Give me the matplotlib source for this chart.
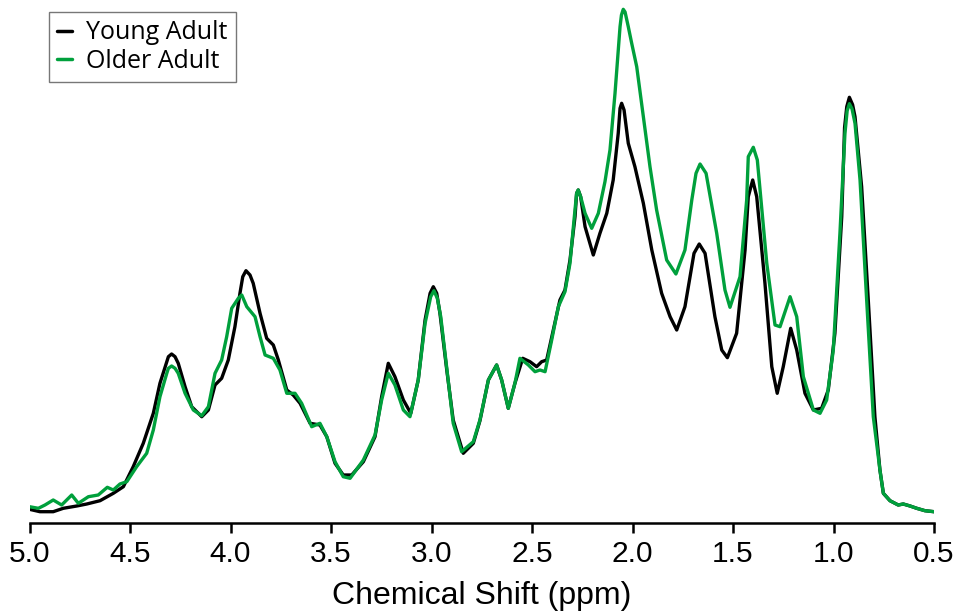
import matplotlib
matplotlib.use("Agg")
import matplotlib.pyplot as plt

# Chemical shift (ppm) and intensity (a.u.)
young_ppm = [5.00, 4.948, 4.882, 4.832, 4.765, 4.715, 4.649, 4.583, 4.533, 4.484, 4.434,
             4.384, 4.351, 4.317, 4.309, 4.293, 4.276, 4.260, 4.226, 4.193, 4.143, 4.110,
             4.077, 4.044, 4.011, 3.978, 3.953, 3.939, 3.923, 3.903, 3.887, 3.853, 3.820,
             3.787, 3.762, 3.720, 3.688, 3.654, 3.604, 3.555, 3.521, 3.480, 3.439, 3.397,
             3.339, 3.281, 3.248, 3.215, 3.182, 3.140, 3.103, 3.066, 3.032, 3.007, 2.991,
             2.974, 2.958, 2.924, 2.892, 2.842, 2.792, 2.759, 2.717, 2.676, 2.651, 2.618,
             2.585, 2.546, 2.510, 2.477, 2.452, 2.427, 2.394, 2.361, 2.336, 2.311, 2.286,
             2.278, 2.270, 2.258, 2.236, 2.195, 2.162, 2.128, 2.096, 2.071, 2.062, 2.054,
             2.042, 2.021, 1.988, 1.946, 1.904, 1.855, 1.813, 1.780, 1.739, 1.705, 1.694,
             1.668, 1.639, 1.590, 1.556, 1.528, 1.482, 1.440, 1.424, 1.402, 1.382, 1.341,
             1.307, 1.280, 1.250, 1.213, 1.183, 1.142, 1.100, 1.059, 1.026, 0.993, 0.959,
             0.945, 0.934, 0.921, 0.905, 0.893, 0.860, 0.827, 0.794, 0.769, 0.752, 0.719,
             0.678, 0.653, 0.619, 0.586, 0.545, 0.500]
young_int = [13.4, 11.0, 11.0, 14.4, 16.7, 18.7, 22.0, 29.4, 36.0, 56.0, 79.4,
             109.4, 139.4, 161.0, 166.0, 168.7, 166.0, 159.4, 136.0, 116.0, 106.0, 112.7,
             137.7, 144.4, 162.7, 196.0, 229.4, 246.0, 252.0, 247.7, 239.4, 209.4, 184.4,
             177.7, 162.7, 132.7, 127.7, 119.4, 99.4, 97.7, 86.0, 59.4, 47.7, 47.7,
             61.0, 86.0, 126.0, 159.4, 146.0, 122.7, 109.4, 142.7, 202.7, 229.4, 236.0,
             229.4, 209.4, 152.7, 102.7, 69.4, 79.4, 102.0, 142.7, 157.7, 142.7, 114.4,
             139.4, 164.4, 161.0, 156.0, 161.0, 162.7, 192.7, 222.7, 232.7, 262.7, 306.0,
             329.4, 332.7, 326.0, 296.0, 267.7, 289.4, 309.4, 342.7, 389.4, 414.4, 419.4,
             412.7, 379.4, 356.0, 319.4, 272.7, 229.4, 206.0, 192.7, 216.0, 256.0, 269.4,
             278.7, 269.4, 206.0, 172.7, 165.0, 189.4, 272.7, 326.0, 342.7, 326.0, 239.4,
             156.0, 129.4, 156.0, 194.4, 172.7, 129.4, 112.7, 114.4, 132.7, 189.4, 306.0,
             395.0, 416.0, 425.4, 418.0, 406.0, 336.0, 222.7, 106.0, 52.7, 29.4, 22.0,
             17.7, 18.7, 16.7, 14.4, 12.0, 11.0]

older_ppm = [5.00, 4.956, 4.923, 4.882, 4.840, 4.790, 4.757, 4.707, 4.658, 4.613, 4.583,
             4.550, 4.516, 4.467, 4.417, 4.384, 4.351, 4.317, 4.309, 4.293, 4.276, 4.260,
             4.226, 4.185, 4.143, 4.110, 4.077, 4.044, 4.019, 3.994, 3.961, 3.944, 3.919,
             3.878, 3.853, 3.828, 3.787, 3.754, 3.720, 3.679, 3.646, 3.596, 3.555, 3.521,
             3.480, 3.439, 3.405, 3.339, 3.281, 3.248, 3.215, 3.182, 3.140, 3.107, 3.066,
             3.032, 3.004, 2.988, 2.971, 2.954, 2.921, 2.892, 2.850, 2.792, 2.759, 2.717,
             2.676, 2.651, 2.618, 2.585, 2.560, 2.518, 2.485, 2.460, 2.435, 2.402, 2.369,
             2.336, 2.311, 2.291, 2.278, 2.270, 2.258, 2.236, 2.203, 2.170, 2.137, 2.112,
             2.087, 2.062, 2.055, 2.046, 2.037, 2.021, 2.004, 1.979, 1.946, 1.913, 1.880,
             1.830, 1.784, 1.739, 1.705, 1.684, 1.664, 1.634, 1.581, 1.540, 1.515, 1.465,
             1.432, 1.424, 1.399, 1.379, 1.332, 1.291, 1.266, 1.216, 1.183, 1.150, 1.100,
             1.067, 1.034, 1.001, 0.968, 0.943, 0.932, 0.921, 0.908, 0.893, 0.868, 0.835,
             0.802, 0.769, 0.752, 0.719, 0.678, 0.653, 0.619, 0.586, 0.545, 0.500]
older_int = [16.0, 14.4, 17.7, 22.7, 17.7, 27.7, 19.4, 26.0, 27.7, 35.4, 32.7,
             38.7, 41.0, 56.0, 69.4, 92.7, 126.0, 149.4, 154.4, 156.7, 154.4, 149.4,
             129.4, 112.7, 107.0, 116.0, 149.4, 162.7, 186.0, 214.4, 224.4, 227.7, 216.0,
             206.0, 186.0, 167.7, 164.4, 152.7, 129.4, 129.4, 119.4, 96.0, 99.4, 86.0,
             61.0, 46.0, 44.4, 62.7, 87.7, 122.7, 149.4, 137.7, 112.7, 106.0, 142.7,
             199.4, 226.0, 232.0, 224.4, 206.0, 149.4, 99.4, 71.0, 81.0, 102.7, 142.7,
             157.7, 142.7, 114.4, 139.4, 164.4, 157.7, 151.0, 152.7, 151.0, 182.7, 216.0,
             231.0, 259.4, 302.7, 329.4, 332.7, 326.0, 309.4, 294.4, 309.4, 341.0, 372.7,
             429.4, 496.0, 507.7, 513.4, 510.7, 496.0, 479.4, 456.0, 406.0, 356.0, 312.7,
             262.7, 248.7, 272.7, 322.7, 349.4, 358.7, 349.4, 289.4, 232.7, 215.4, 246.0,
             322.7, 366.0, 375.4, 362.7, 259.4, 197.7, 196.0, 226.0, 206.0, 146.0, 112.7,
             109.4, 122.7, 172.7, 289.4, 389.4, 412.0, 419.0, 414.0, 399.4, 342.7, 222.7,
             106.0, 52.7, 29.4, 22.0, 17.7, 18.7, 16.7, 14.4, 12.0, 11.0]

series_labels = ["Young Adult", "Older Adult"]
tick_values = [5.0, 4.5, 4.0, 3.5, 3.0, 2.5, 2.0, 1.5, 1.0, 0.5]
x_label = "Chemical Shift (ppm)"

fig = plt.figure(figsize=(9.57, 6.12), dpi=100)
ax = fig.add_axes([29.5 / 957, (612 - 522.7) / 612, (934 - 29.5) / 957, (522.7 - 5) / 612])

ax.plot(young_ppm, young_int, color="black", lw=2.4, label=series_labels[0],
        solid_joinstyle="round", solid_capstyle="round", zorder=2)
ax.plot(older_ppm, older_int, color="#00A03C", lw=2.4, label=series_labels[1],
        solid_joinstyle="round", solid_capstyle="round", zorder=3)

ax.set_xlim(5.0, 0.5)
ax.set_ylim(0, 517.7)
ax.set_xticks(tick_values)
ax.set_xticklabels([f"{t:.1f}" for t in tick_values], fontsize=21.5,
                   family=["Liberation Sans", "DejaVu Sans"])
ax.set_yticks([])
for s in ["top", "right", "left"]:
    ax.spines[s].set_visible(False)
ax.spines["bottom"].set_linewidth(1.8)
ax.tick_params(axis="x", direction="out", length=7.5, width=1.8, pad=5)
ax.set_xlabel(x_label, fontsize=23, family=["Liberation Sans", "DejaVu Sans"], labelpad=9)
ax.patch.set_visible(False)

leg = fig.legend(loc="upper left", bbox_to_anchor=(49 / 957, 1 - 12 / 612),
                 bbox_transform=fig.transFigure, frameon=True, fancybox=False,
                 borderaxespad=0, handlelength=0.6, handletextpad=0.55,
                 borderpad=0.33, labelspacing=0.15,
                 prop={"family": ["Open Sans", "DejaVu Sans"], "size": 18})
leg.get_frame().set_edgecolor("#555555")
leg.get_frame().set_linewidth(1.0)
for h in leg.get_lines():
    h.set_linewidth(2.5)

fig.savefig("out.png", dpi=100)
